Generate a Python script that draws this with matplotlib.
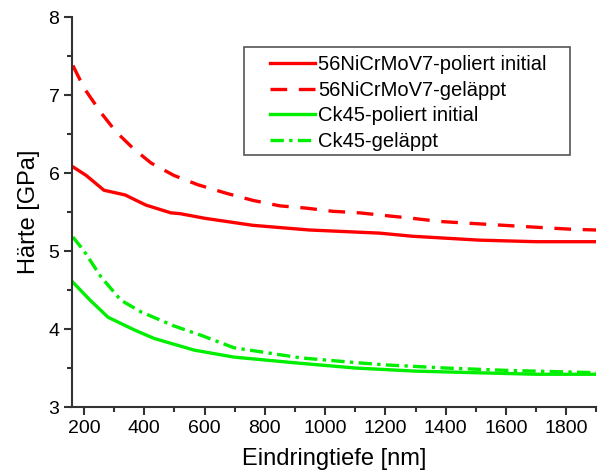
import matplotlib
matplotlib.use("Agg")
import matplotlib.pyplot as plt
from matplotlib.ticker import MultipleLocator
from matplotlib.patches import Rectangle

plt.rcParams['font.family'] = ['Liberation Sans', 'DejaVu Sans']

# Data
x_ni_pol = [163, 207, 266, 336, 405, 488, 518, 601, 760, 948, 1180, 1289, 1511, 1700, 1900]
y_ni_pol = [6.08, 5.97, 5.78, 5.72, 5.59, 5.49, 5.48, 5.42, 5.33, 5.27, 5.23, 5.19, 5.14, 5.12, 5.12]

x_ni_gel = [163, 200, 257, 306, 362, 422, 498, 578, 673, 760, 849, 938, 1025, 1114, 1213, 1289, 1379, 1462, 1550, 1636, 1725, 1815, 1900]
y_ni_gel = [7.38, 7.09, 6.77, 6.53, 6.32, 6.13, 5.97, 5.85, 5.74, 5.65, 5.58, 5.55, 5.51, 5.49, 5.45, 5.42, 5.38, 5.36, 5.34, 5.32, 5.30, 5.28, 5.27]

x_ck_pol = [163, 220, 280, 366, 432, 565, 697, 919, 1100, 1300, 1500, 1700, 1900]
y_ck_pol = [4.60, 4.37, 4.15, 3.99, 3.88, 3.73, 3.64, 3.56, 3.50, 3.46, 3.44, 3.42, 3.42]

x_ck_gel = [163, 200, 256, 322, 389, 498, 588, 697, 919, 1100, 1200, 1400, 1600, 1800, 1900]
y_ck_gel = [5.18, 5.00, 4.67, 4.37, 4.22, 4.04, 3.92, 3.76, 3.63, 3.57, 3.54, 3.50, 3.47, 3.45, 3.44]

labels = ["56NiCrMoV7-poliert initial", "56NiCrMoV7-geläppt",
          "Ck45-poliert initial", "Ck45-geläppt"]

W, H = 598, 472
fig = plt.figure(figsize=(W / 100, H / 100), dpi=100)
ax = fig.add_axes([0.1204, 0.1377, 0.877, 0.826])

red = '#ff0000'
green = '#00ee00'
lw = 2.4
ax.plot(x_ni_pol, y_ni_pol, color=red, lw=lw, label=labels[0])
ax.plot(x_ni_gel, y_ni_gel, color=red, lw=lw, dashes=(5, 3.5), label=labels[1])
ax.plot(x_ck_pol, y_ck_pol, color=green, lw=lw, label=labels[2])
ax.plot(x_ck_gel, y_ck_gel, color=green, lw=lw, dashes=(4, 1.6, 1, 1.6), label=labels[3])

ax.set_xlim(160, 1900)
ax.set_ylim(3, 8)
ax.xaxis.set_major_locator(MultipleLocator(200))
ax.xaxis.set_minor_locator(MultipleLocator(100))
ax.yaxis.set_major_locator(MultipleLocator(1))
ax.yaxis.set_minor_locator(MultipleLocator(0.5))

for s in ['top', 'right']:
    ax.spines[s].set_visible(False)
for s in ['left', 'bottom']:
    ax.spines[s].set_linewidth(1.5)
    ax.spines[s].set_color('#333333')

ax.tick_params(which='major', direction='out', length=6, width=1.5, color='#333333',
               labelsize=14, pad=3)
ax.tick_params(which='minor', direction='out', length=3.5, width=1.5, color='#333333')

ax.set_xlabel("Eindringtiefe [nm]", fontsize=17, labelpad=8)
ax.set_ylabel("Härte [GPa]", fontsize=17, labelpad=6)

# legend frame
fig.patches.append(Rectangle((244 / W, 1 - 155 / H), (570 - 244) / W, (155 - 47) / H,
                             transform=fig.transFigure, fill=False,
                             edgecolor='#555555', lw=1.2, zorder=5))

leg = ax.legend(loc='upper left', bbox_to_anchor=(270 / W, 1 - 55 / H),
                bbox_transform=fig.transFigure, fontsize=14.5, frameon=False,
                handlelength=2.25, handletextpad=0.15, borderpad=0,
                labelspacing=0.33, borderaxespad=0)

fig.savefig("out.png", dpi=100)
